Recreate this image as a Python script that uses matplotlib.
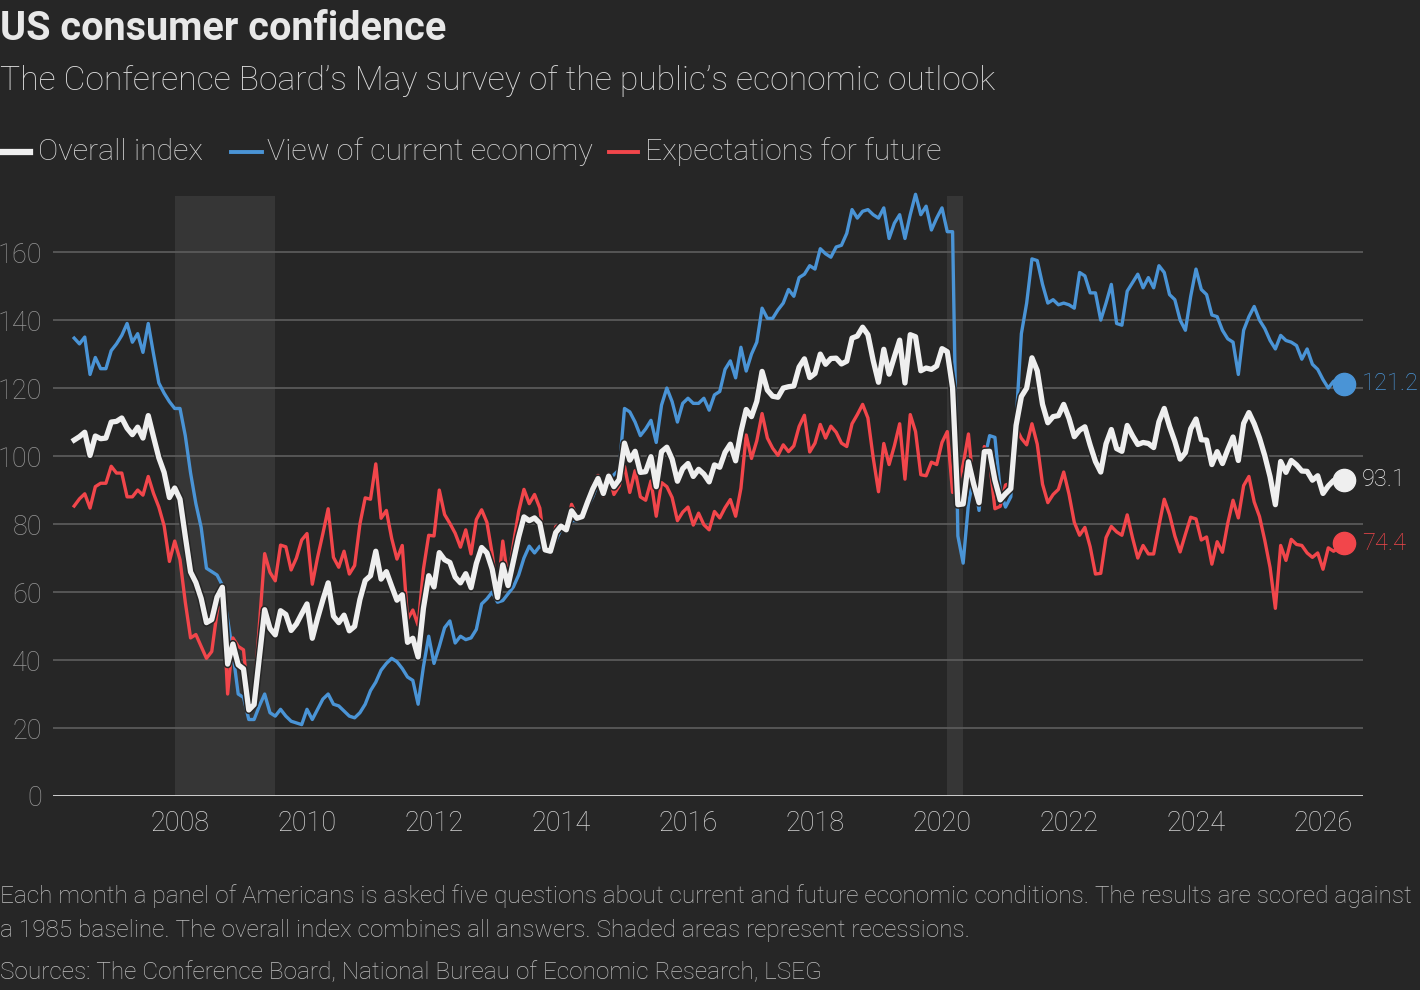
import numpy as np
import matplotlib
matplotlib.use("Agg")
import matplotlib.pyplot as plt
import matplotlib.patheffects as pe
from matplotlib.lines import Line2D

plt.rcParams['font.family'] = ['Roboto', 'DejaVu Sans']

# monthly readings, May 2006 to May 2026
start_year = 2006
start_month = 5

overall = [
    104.7, 105.7, 107.0, 100.2, 105.9, 105.1, 105.3, 110.0,
    110.2, 111.2, 108.2, 106.3, 108.5, 105.3, 111.9, 105.6, 99.5, 95.2, 87.8, 90.6,
    87.3, 76.4, 65.9, 62.8, 58.1, 51.0, 51.9, 58.5, 61.4, 38.8, 44.7, 38.6,
    37.4, 25.3, 26.9, 40.8, 54.8, 49.3, 47.4, 54.5, 53.4, 48.7, 50.6, 53.6,
    56.5, 46.4, 52.3, 57.7, 62.7, 52.9, 51.0, 53.2, 48.6, 49.9, 57.8, 63.4,
    64.8, 72.0, 63.8, 66.0, 61.7, 57.6, 59.2, 45.2, 46.4, 40.9, 55.2, 64.8,
    61.5, 71.6, 69.5, 68.7, 64.4, 62.7, 65.4, 61.3, 68.4, 73.1, 71.5, 66.7,
    58.4, 68.0, 61.9, 69.0, 76.2, 82.1, 81.0, 81.8, 80.2, 72.4, 72.0, 77.5,
    79.4, 78.3, 83.9, 81.7, 82.2, 86.4, 90.3, 93.4, 89.0, 94.1, 91.0, 93.1,
    103.8, 98.8, 101.4, 95.2, 95.4, 99.8, 91.0, 101.3, 102.6, 99.1, 92.6, 96.3,
    97.8, 94.0, 96.1, 94.7, 92.4, 97.4, 96.7, 101.1, 103.5, 98.6, 107.1, 113.7,
    111.6, 116.1, 124.9, 119.4, 117.6, 117.3, 120.0, 120.4, 120.6, 126.2, 128.6, 123.1,
    124.3, 130.0, 127.0, 128.7, 128.8, 127.1, 127.9, 134.7, 135.3, 137.9, 135.7, 128.1,
    121.7, 131.4, 124.1, 129.2, 134.1, 121.5, 135.7, 135.1, 125.1, 125.9, 125.5, 126.5,
    131.6, 130.7, 120.0, 85.7, 85.9, 98.3, 91.7, 86.3, 101.3, 101.4, 92.9, 87.1,
    88.9, 90.4, 109.0, 117.5, 120.0, 128.9, 125.1, 115.2, 109.8, 111.6, 111.9, 115.2,
    111.1, 105.7, 107.6, 108.6, 103.2, 98.4, 95.3, 103.6, 107.8, 102.2, 101.4, 109.0,
    106.0, 103.4, 104.0, 103.7, 102.5, 110.1, 114.0, 108.7, 104.3, 99.1, 101.0, 108.0,
    110.9, 104.8, 104.7, 97.5, 101.3, 97.8, 101.9, 105.6, 98.7, 109.6, 112.8, 109.5,
    105.3, 100.1, 93.9, 85.7, 98.4, 95.2, 98.7, 97.4, 95.6, 95.5, 92.9, 94.2,
    89.0, 91.2, 92.8, 92.0, 93.1,
]

present = [
    134.7, 133.0, 135.0, 124.0, 129.0, 125.7, 125.7, 131.0,
    133.0, 135.5, 139.0, 133.5, 136.0, 130.5, 139.0, 130.0, 121.5, 118.5, 116.0, 114.0,
    114.0, 106.0, 95.0, 86.0, 79.0, 67.0, 66.0, 65.0, 62.0, 52.0, 42.0, 30.0,
    29.0, 22.5, 22.5, 26.5, 30.0, 24.5, 23.5, 25.5, 23.5, 22.0, 21.5, 21.0,
    25.5, 22.5, 25.5, 28.5, 30.0, 27.0, 26.5, 25.0, 23.5, 23.0, 24.5, 27.0,
    31.0, 33.5, 37.0, 39.0, 40.5, 39.5, 37.5, 35.0, 34.0, 27.0, 38.0, 47.0,
    39.0, 44.0, 49.5, 51.5, 45.0, 47.0, 46.0, 46.5, 49.0, 56.5, 58.0, 60.0,
    57.0, 57.5, 59.5, 61.5, 65.0, 70.0, 73.5, 71.5, 73.5, 72.5, 73.0, 75.0,
    78.5, 78.0, 81.0, 81.0, 82.0, 85.0, 88.0, 92.0, 90.0, 93.0, 94.5, 96.0,
    114.0, 113.0, 110.0, 106.0, 108.0, 110.5, 104.0, 115.0, 120.0, 116.0, 110.0, 115.5,
    117.0, 115.5, 115.5, 117.0, 113.5, 118.0, 119.0, 125.5, 128.0, 123.0, 132.0, 125.0,
    130.0, 133.5, 143.5, 140.5, 140.5, 143.0, 145.0, 149.0, 147.0, 152.5, 153.5, 156.0,
    155.0, 161.0, 159.5, 158.5, 161.5, 162.0, 165.5, 172.5, 170.0, 172.0, 172.5, 171.0,
    170.0, 173.0, 164.0, 168.5, 171.0, 164.0, 171.0, 177.0, 171.0, 173.5, 166.5, 170.0,
    173.0, 166.0, 166.0, 76.5, 68.5, 86.0, 94.0, 84.0, 99.0, 106.0, 105.5, 90.0,
    85.0, 88.0, 110.0, 136.0, 145.0, 158.0, 157.5, 150.5, 145.0, 146.0, 144.5, 145.0,
    144.5, 143.5, 154.0, 153.0, 148.0, 148.0, 140.0, 145.0, 150.5, 139.0, 138.5, 148.5,
    151.0, 153.5, 149.5, 152.5, 149.5, 156.0, 154.0, 147.5, 146.0, 140.0, 137.0, 147.0,
    155.0, 149.0, 147.5, 141.5, 141.0, 137.0, 134.5, 133.5, 124.0, 137.0, 141.0, 144.0,
    140.0, 137.5, 134.0, 131.5, 135.5, 134.0, 133.5, 132.5, 128.5, 131.5, 127.0, 125.5,
    122.5, 120.0, 122.0, 122.5, 121.2,
]

expect = [
    85.3, 87.4, 88.9, 84.7, 91.0, 92.0, 92.0, 97.0,
    95.0, 95.0, 88.0, 88.0, 90.0, 88.5, 94.0, 89.0, 85.0, 79.5, 69.0, 75.0,
    69.5, 57.0, 46.5, 47.5, 44.0, 40.5, 42.5, 54.0, 61.0, 30.0, 46.5, 44.0,
    43.0, 27.2, 29.8, 50.3, 71.3, 65.8, 63.3, 73.8, 73.3, 66.5, 70.0, 75.3,
    77.2, 62.3, 70.2, 77.2, 84.5, 70.2, 67.3, 72.0, 65.3, 67.8, 80.0, 87.7,
    87.3, 97.7, 81.7, 84.0, 75.8, 69.7, 73.7, 52.0, 54.7, 50.2, 66.7, 76.7,
    76.5, 90.0, 82.8, 80.2, 77.3, 73.2, 78.3, 71.2, 81.3, 84.2, 80.5, 71.2,
    59.3, 75.0, 63.5, 74.0, 83.7, 90.2, 86.0, 88.7, 84.7, 72.3, 71.3, 79.2,
    80.0, 78.5, 85.8, 82.2, 82.3, 87.3, 91.8, 94.3, 88.3, 94.8, 88.7, 91.2,
    97.0, 89.3, 95.7, 88.0, 87.0, 92.7, 82.3, 92.2, 91.0, 87.8, 81.0, 83.5,
    85.0, 79.7, 83.2, 79.8, 78.3, 83.7, 81.8, 84.8, 87.2, 82.3, 90.5, 106.2,
    99.3, 104.5, 112.5, 105.3, 102.3, 100.2, 103.3, 101.3, 103.0, 108.7, 112.0, 101.2,
    103.8, 109.3, 105.3, 108.8, 107.0, 103.8, 102.8, 109.5, 112.2, 115.2, 111.2, 99.5,
    89.5, 103.7, 97.5, 103.0, 109.5, 93.2, 112.2, 107.2, 94.5, 94.2, 98.2, 97.5,
    104.0, 107.2, 89.3, 91.8, 97.5, 106.5, 90.2, 87.8, 102.8, 98.3, 84.5, 85.2,
    91.5, 92.0, 108.3, 105.2, 103.3, 109.5, 103.5, 91.7, 86.3, 88.7, 90.2, 95.3,
    88.8, 80.5, 76.7, 79.0, 73.3, 65.3, 65.5, 76.0, 79.3, 77.7, 76.7, 82.7,
    76.0, 70.0, 73.7, 71.2, 71.2, 79.5, 87.3, 82.8, 76.5, 71.8, 77.0, 82.0,
    81.5, 75.3, 76.2, 68.2, 74.8, 71.7, 80.2, 87.0, 81.8, 91.3, 94.0, 86.5,
    82.2, 75.2, 67.2, 55.2, 73.7, 69.3, 75.5, 74.0, 73.7, 71.5, 70.2, 71.5,
    66.7, 73.0, 72.0, 73.0, 74.4,
]

# recessions (NBER), as decimal years
recessions = [(2007 + 11 / 12, 2009 + 6 / 12), (2020 + 1 / 12, 2020 + 4 / 12)]

year_ticks = list(range(2008, 2027, 2))
value_ticks = list(range(0, 161, 20))

BG = '#262626'
WHITE = '#efefef'
BLUE = '#4a94d6'
RED = '#f2464b'
GRID = '#5a5a5a'
TXT = '#d4d4d4'

n = len(overall)
x = start_year + (start_month - 1 + np.arange(n)) / 12.0

fig = plt.figure(figsize=(14.2, 9.9), dpi=100, facecolor=BG)
ax = fig.add_axes([53 / 1420, 194 / 990, 1310 / 1420, 600 / 990])
ax.set_facecolor(BG)

for a, b in recessions:
    ax.axvspan(a, b, color='#363636', lw=0, zorder=0)

for v in value_ticks[1:]:
    ax.axhline(v, color=GRID, lw=1.3, zorder=1)
ax.axhline(0, color='#dedede', lw=2.0, zorder=2)

ax.plot(x, present, color=BLUE, lw=2.4, zorder=3, solid_joinstyle='round', clip_on=False)
ax.plot(x, expect, color=RED, lw=2.4, zorder=4, solid_joinstyle='round', clip_on=False)
ax.plot(x, overall, color=WHITE, lw=3.8, zorder=5, solid_joinstyle='round', clip_on=False,
        path_effects=[pe.Stroke(linewidth=6.0, foreground=BG), pe.Normal()])

for series, col, zo in [(present, BLUE, 6), (overall, WHITE, 7), (expect, RED, 6)]:
    ax.plot(x[-1], series[-1], 'o', ms=16, color=col, mec=col, zorder=zo, clip_on=False)
    ax.annotate(f'{series[-1]:.1f}', (x[-1], series[-1]), xytext=(13, 0),
                textcoords='offset points', va='center', ha='left',
                color=col, fontsize=17, fontweight='light')

ax.set_xlim(2006.0, 2026.63)
ax.set_ylim(0, 176.5)
ax.set_xticks(year_ticks)
ax.set_xticklabels([str(t) for t in year_ticks])
ax.set_yticks(value_ticks)
ax.set_yticklabels([str(t) for t in value_ticks])
ax.tick_params(axis='both', length=0, labelsize=19.5, labelcolor=TXT)
ax.tick_params(axis='x', pad=10)
ax.tick_params(axis='y', pad=8, labelcolor='#959595')
for lab in ax.get_xticklabels() + ax.get_yticklabels():
    lab.set_fontweight('light')
for s in ax.spines.values():
    s.set_visible(False)

# header
fig.text(0.0, 1 - 29 / 990, 'US consumer confidence', fontsize=28.5, fontweight='bold',
         color='#e8e8e8', va='center', ha='left')
fig.text(0.0, 1 - 81 / 990, 'The Conference Board\u2019s May survey of the public\u2019s economic outlook',
         fontsize=24.2, fontweight='light', color='#dcdcdc', va='center', ha='left')

# legend
leg_y = 1 - 152 / 990
legend_items = [('Overall index', WHITE, 4.5, 2, 30, 38),
                ('View of current economy', BLUE, 2.8, 231, 262, 267),
                ('Expectations for future', RED, 2.8, 609, 638, 645)]
for label, col, lw, x0, x1, tx in legend_items:
    fig.add_artist(Line2D([x0 / 1420, x1 / 1420], [leg_y, leg_y], color=col, lw=lw,
                          transform=fig.transFigure))
    fig.text(tx / 1420, leg_y, label, fontsize=21.8, fontweight='light', color=TXT,
             va='center', ha='left')

# footer
foot = '#bfbfbf'
fig.text(0.0, 1 - 896 / 990, 'Each month a panel of Americans is asked five questions about current and '
         'future economic conditions. The results are scored against',
         fontsize=17.6, fontweight='light', color=foot, va='center', ha='left')
fig.text(0.0, 1 - 930 / 990, 'a 1985 baseline. The overall index combines all answers. '
         'Shaded areas represent recessions.',
         fontsize=17.6, fontweight='light', color=foot, va='center', ha='left')
fig.text(0.0, 1 - 973 / 990, 'Sources: The Conference Board, National Bureau of Economic Research, LSEG',
         fontsize=17.6, fontweight='light', color=foot, va='center', ha='left')

fig.savefig('out.png', dpi=100, facecolor=BG)
